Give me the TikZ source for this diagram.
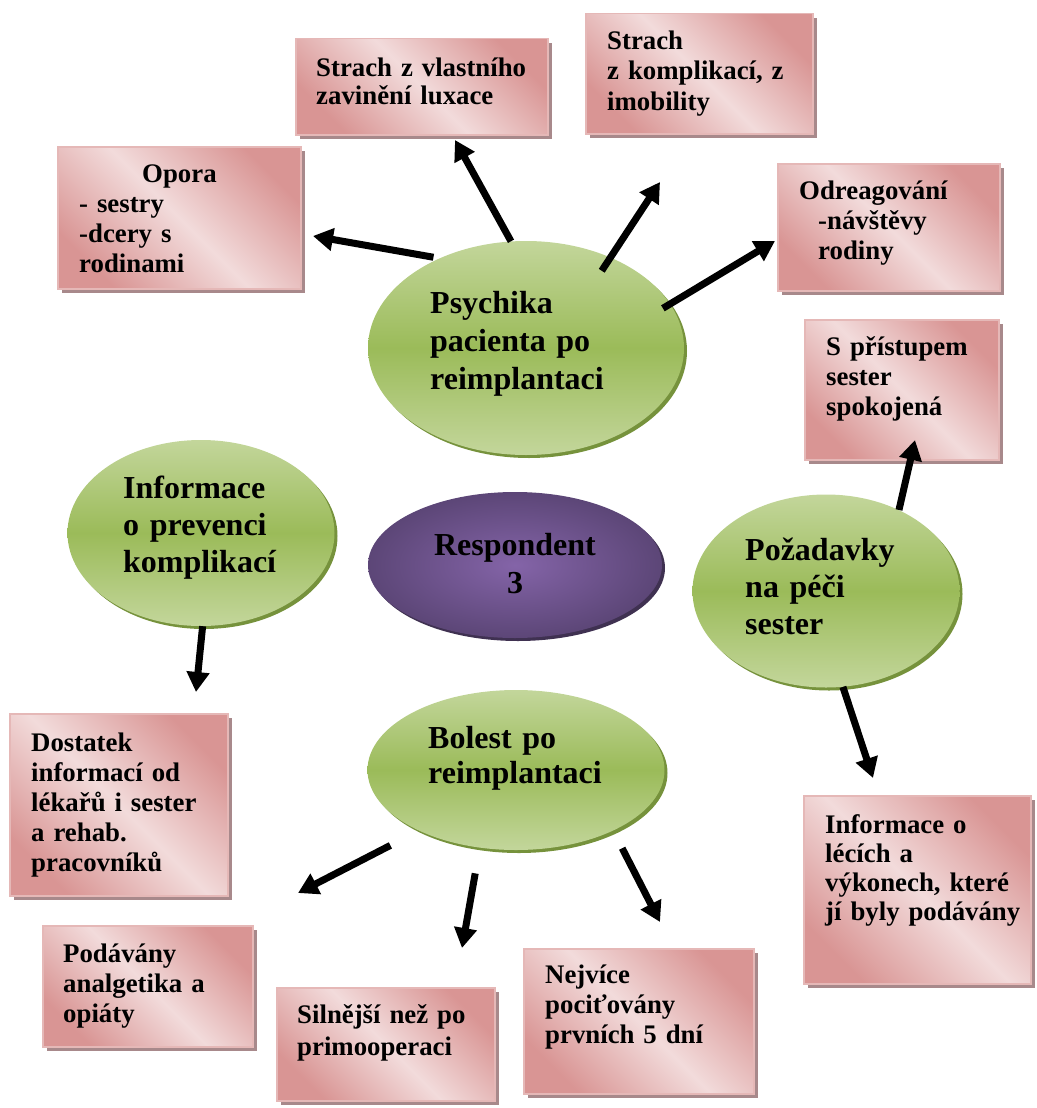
\documentclass[tikz,border=0pt]{standalone}
\usepackage{fontspec}
\setmainfont{Liberation Serif}
\usetikzlibrary{arrows.meta,shadows,shapes.geometric}

\definecolor{pinkD}{HTML}{D99594}
\definecolor{pinkL}{HTML}{F2DBDB}
\definecolor{pinkEdge}{HTML}{E5B8B7}
\definecolor{pinkShadow}{HTML}{A8898B}
\definecolor{greenL}{HTML}{C3D69B}
\definecolor{greenM}{HTML}{9BBB59}
\definecolor{greenS}{HTML}{76923C}
\definecolor{purpleL}{HTML}{8464A8}
\definecolor{purpleD}{HTML}{5C4677}
\definecolor{purpleS}{HTML}{3F3151}

\tikzset{
  notebox/.style={rectangle, anchor=north west, inner sep=0pt, draw=pinkEdge, line width=1.5pt,
    top color=pinkD, bottom color=pinkD, middle color=pinkL, shading angle=-45,
    drop shadow={shadow xshift=4pt, shadow yshift=-4pt, fill=pinkShadow, opacity=1}},
  notetext/.style={anchor=base west, inner sep=0pt, text width=260pt, align=left,
    font=\fontsize{26.8}{30}\selectfont\bfseries},
  topic/.style={ellipse, inner sep=0pt, top color=greenL, bottom color=greenL, middle color=greenM,
    drop shadow={shadow xshift=3pt, shadow yshift=-3pt, fill=greenS, opacity=1}},
  centre/.style={ellipse, inner sep=0pt, shading=radial, inner color=purpleL, outer color=purpleD,
    drop shadow={shadow xshift=3pt, shadow yshift=-3pt, fill=purpleS, opacity=1}},
  topictext/.style={anchor=base west, inner sep=0pt, text width=260pt, align=left,
    font=\fontsize{32}{38}\selectfont\bfseries},
  link/.style={line width=7pt, -{Triangle[length=20pt,width=22pt]}},
}

\begin{document}
\begin{tikzpicture}[x=1pt,y=-1pt]
\useasboundingbox (0,0) rectangle (1036,1108);

% ---- note boxes ----
\node[notebox, minimum width=252pt, minimum height=96pt]  (bA) at (295,38) {};
\node[notebox, minimum width=227pt, minimum height=120pt] (bB) at (585,13) {};
\node[notebox, minimum width=243pt, minimum height=142pt] (bC) at (57,146) {};
\node[notebox, minimum width=222pt, minimum height=127pt] (bD) at (777,163) {};
\node[notebox, minimum width=194pt, minimum height=140pt] (bE) at (804,319) {};
\node[notebox, minimum width=218pt, minimum height=182pt] (bF) at (9,713) {};
\node[notebox, minimum width=227pt, minimum height=188pt] (bG) at (803,795) {};
\node[notebox, minimum width=210pt, minimum height=121pt] (bH) at (42,925) {};
\node[notebox, minimum width=218pt, minimum height=113pt] (bI) at (276,987) {};
\node[notebox, minimum width=230pt, minimum height=145pt] (bJ) at (523,948) {};

\node[notetext, font=\fontsize{26.8}{28}\selectfont\bfseries] (tA) at (316,77) {Strach z vlastního\\zavinění luxace};
\node[notetext] (tB) at (607,50) {Strach\\z komplikací, z\\imobility};
\node[notetext] (tC) at (79,182) {\hspace*{63pt}Opora\\- sestry\\-dcery s\\rodinami};
\node[notetext] (tD) at (799,199) {Odreagování\\\hspace*{19pt}-návštěvy\\\hspace*{19pt}rodiny};
\node[notetext] (tE) at (826,355) {S přístupem\\sester\\spokojená};
\node[notetext] (tF) at (31,751) {Dostatek\\informací od\\lékařů i sester\\a rehab.\\pracovníků};
\node[notetext, font=\fontsize{26.8}{29}\selectfont\bfseries] (tG) at (825,833) {Informace o\\lécích a\\výkonech, které\\jí byly podávány};
\node[notetext] (tH) at (63,962) {Podávány\\analgetika a\\opiáty};
\node[notetext, font=\fontsize{26.8}{32}\selectfont\bfseries] (tI) at (297,1023) {Silnější než po\\primooperaci};
\node[notetext] (tJ) at (545,983) {Nejvíce\\pociťovány\\prvních 5 dní};

% ---- topic ellipses ----
\node[topic, minimum width=316pt, minimum height=214pt] (eP) at (526,348) {};
\node[topic, minimum width=267pt, minimum height=186pt] (eI) at (201,533) {};
\node[centre, minimum width=294pt, minimum height=146pt] (eR) at (515,565) {};
\node[topic, minimum width=267pt, minimum height=193pt] (eQ) at (826,591) {};
\node[topic, minimum width=297pt, minimum height=160pt] (eB) at (516,770) {};

\node[topictext] (lP) at (430,313) {Psychika\\pacienta po\\reimplantaci};
\node[topictext, font=\fontsize{32}{37}\selectfont\bfseries] (lI) at (123,498) {Informace\\o prevenci\\komplikací};
\node[topictext, anchor=base, align=center, text width=220pt] (lR) at (515,555) {Respondent\\3};
\node[topictext, font=\fontsize{32}{37}\selectfont\bfseries] (lQ) at (745,560) {Požadavky\\na péči\\sester};
\node[topictext, font=\fontsize{32}{35}\selectfont\bfseries] (lB) at (428,748) {Bolest po\\reimplantaci};

% ---- arrow tips ----
\coordinate (t1) at (313,236);
\coordinate (t2) at (455,140);
\coordinate (t3) at (660,182);
\coordinate (t4) at (775,241);
\coordinate (t5) at (915,440);
\coordinate (t6) at (873,778);
\coordinate (t7) at (196,692);
\coordinate (t8) at (298,893);
\coordinate (t9) at (462,948);
\coordinate (t10) at (660,922);

% ---- connectors ----
\draw[link, shorten <=6pt]   (eP.134.7) -- (t1);
\draw[link]                  (eP.98.6) -- (t2);
\draw[link, shorten <=-16pt] (eP.47.7) -- (t3);
\draw[link, shorten <=-8.5pt] (eP.17.5) -- (t4);
\draw[link] (eQ.48) -- (t5);
\draw[link] (eQ.-80) -- (t6);
\draw[link] (eI.-89) -- (t7);
\draw[link, shorten <=32pt]   (eB.-148.3) -- (t8);
\draw[link, shorten <=26pt]   (eB.-115.2) -- (t9);
\draw[link, shorten <=19.7pt] (eB.-32) -- (t10);
\end{tikzpicture}
\end{document}
